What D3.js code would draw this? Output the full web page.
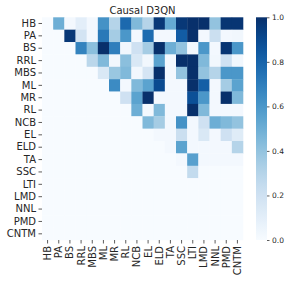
<!DOCTYPE html>
<html>
<head>
<meta charset="utf-8">
<script src="https://cdn.jsdelivr.net/npm/d3@7"></script>
<style>
  html, body { margin: 0; padding: 0; background: #fff; }
  svg { display: block; font-family: "DejaVu Sans", sans-serif; }
</style>
</head>
<body>
<div id="chart"></div>
<script>
const title = "Causal D3QN";
const labels = ["HB","PA","BS","RRL","MBS","ML","MR","RL","NCB","EL","ELD","TA","SSC","LTI","LMD","NNL","PMD","CNTM"];
// rows = source, columns = target (upper triangular)
const rowHB   = [0,0.5,0.02,0.1,0.02,0.62,0.3,0.78,0.45,0.3,0.97,0.52,0.97,1.0,1.0,0.4,0.98,0.98];
const rowPA   = [0,0,0.97,0.18,0.02,0.72,0.35,0.6,0.02,0.77,0.02,0.02,0.83,1.0,0.02,0.22,0.02,0.03];
const rowBS   = [0,0,0,0.68,0.42,1.0,0.7,0.03,0.2,0.35,1.0,0.5,0.4,0.02,0.6,0.02,0.98,0.6];
const rowRRL  = [0,0,0,0,0.28,0.45,0.03,0.42,0.15,0.03,0.55,0.02,1.0,1.0,0.45,0.03,0.2,0.03];
const rowMBS  = [0,0,0,0,0,0.15,0.38,0.45,0.03,0.17,1.0,0.02,0.4,1.0,0.4,0.3,0.6,0.6];
const rowML   = [0,0,0,0,0,0,0.65,0.02,0.45,0.55,0.9,0.02,0.02,1.0,0.82,0.02,0.35,0.55];
const rowMR   = [0,0,0,0,0,0,0,0.2,0.55,1.0,0.02,0.02,0.02,0.88,0.6,0.02,1.0,0.45];
const rowRL   = [0,0,0,0,0,0,0,0,0.5,0.02,0.45,0.02,0.02,1.0,0.45,0.02,0.02,0.02];
const rowNCB  = [0,0,0,0,0,0,0,0,0,0.45,0.35,0.02,0.62,0.02,0.2,0.5,0.45,0.4];
const rowEL   = [0,0,0,0,0,0,0,0,0,0,0.02,0.02,0.22,0.02,0.15,0.02,0.2,0.12];
const rowELD  = [0,0,0,0,0,0,0,0,0,0,0,0.02,0.55,0.02,0.02,0.02,0.02,0.3];
const rowTA   = [0,0,0,0,0,0,0,0,0,0,0,0,0.02,0.56,0.02,0.02,0.02,0.02];
const rowSSC  = [0,0,0,0,0,0,0,0,0,0,0,0,0,0.25,0,0,0,0];
const rowLTI  = [0,0,0,0,0,0,0,0,0,0,0,0,0,0,0,0,0,0];
const rowLMD  = [0,0,0,0,0,0,0,0,0,0,0,0,0,0,0,0,0,0];
const rowNNL  = [0,0,0,0,0,0,0,0,0,0,0,0,0,0,0,0,0,0];
const rowPMD  = [0,0,0,0,0,0,0,0,0,0,0,0,0,0,0,0,0,0];
const rowCNTM = [0,0,0,0,0,0,0,0,0,0,0,0,0,0,0,0,0,0];
const matrix = [rowHB,rowPA,rowBS,rowRRL,rowMBS,rowML,rowMR,rowRL,rowNCB,rowEL,rowELD,rowTA,rowSSC,rowLTI,rowLMD,rowNNL,rowPMD,rowCNTM];
const colorbarTicks = [0.0,0.2,0.4,0.6,0.8,1.0];

const W = 291, H = 283;
const m = {left: 42, right: 243, top: 17.3, bottom: 240};
const cb = {x: 256, w: 11};

const svg = d3.select("#chart").append("svg").attr("width", W).attr("height", H);

const x = d3.scaleBand().domain(labels).range([m.left, m.right]).padding(0);
const y = d3.scaleBand().domain(labels).range([m.top, m.bottom]).padding(0);
const color = d3.scaleSequential(d3.interpolateBlues).domain([0, 1]);

const cells = [];
matrix.forEach((row, i) => row.forEach((v, j) => cells.push({r: labels[i], c: labels[j], v})));

svg.append("g").selectAll("rect").data(cells).join("rect")
  .attr("x", d => x(d.c))
  .attr("y", d => y(d.r))
  .attr("width", x.bandwidth() + 0.3)
  .attr("height", y.bandwidth() + 0.3)
  .attr("fill", d => color(d.v));

// axes
const yAxis = svg.append("g").attr("transform", `translate(${m.left},0)`)
  .call(d3.axisLeft(y).tickSize(3.5).tickPadding(2.5));
const xAxis = svg.append("g").attr("transform", `translate(0,${m.bottom})`)
  .call(d3.axisBottom(x).tickSize(3.5).tickPadding(2.5));
[yAxis, xAxis].forEach(g => {
  g.select(".domain").remove();
  g.selectAll(".tick line").attr("stroke", "#333").attr("stroke-width", 0.8);
  g.selectAll(".tick text").attr("fill", "#262626").style("font-size", "10px").style("font-family", "DejaVu Sans, sans-serif");
});
xAxis.selectAll(".tick text")
  .attr("transform", "rotate(-90)")
  .attr("text-anchor", "end")
  .attr("dy", "0.35em")
  .attr("x", -6)
  .attr("y", 0);

// title
svg.append("text")
  .attr("x", (m.left + m.right) / 2)
  .attr("y", 13.5)
  .attr("text-anchor", "middle")
  .attr("fill", "#262626")
  .style("font-size", "10px")
  .text(title);

// colorbar
const defs = svg.append("defs");
const grad = defs.append("linearGradient").attr("id", "cbgrad")
  .attr("x1", 0).attr("y1", 1).attr("x2", 0).attr("y2", 0);
d3.range(0, 1.0001, 0.05).forEach(t => {
  grad.append("stop").attr("offset", t).attr("stop-color", color(t));
});
svg.append("rect")
  .attr("x", cb.x).attr("y", m.top)
  .attr("width", cb.w).attr("height", m.bottom - m.top)
  .attr("fill", "url(#cbgrad)");
const cbScale = d3.scaleLinear().domain([0, 1]).range([m.bottom, m.top]);
const cbAxis = svg.append("g").attr("transform", `translate(${cb.x + cb.w},0)`)
  .call(d3.axisRight(cbScale).tickValues(colorbarTicks).tickFormat(d3.format(".1f")).tickSize(2.5).tickPadding(2.5));
cbAxis.select(".domain").remove();
cbAxis.selectAll(".tick line").attr("stroke", "#333").attr("stroke-width", 0.8);
cbAxis.selectAll(".tick text").attr("fill", "#262626").style("font-size", "7.5px").style("font-family", "DejaVu Sans, sans-serif");
</script>
</body>
</html>
